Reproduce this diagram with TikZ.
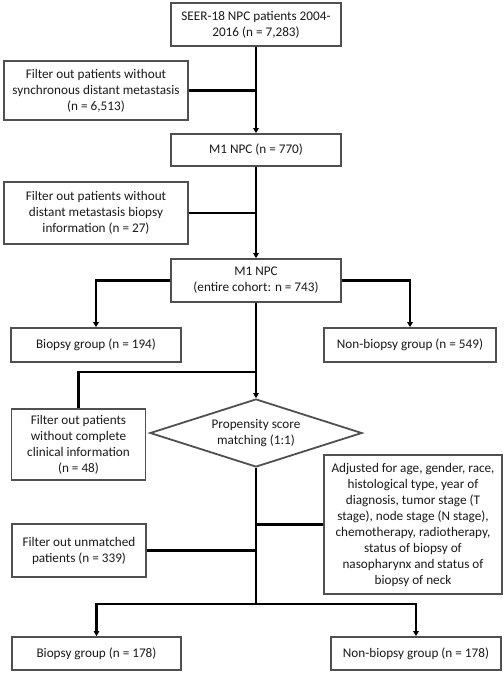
\documentclass[tikz,border=0pt]{standalone}
\usepackage{fontspec}
\setmainfont{Carlito}
\usetikzlibrary{shapes.geometric,arrows.meta}
\definecolor{boxgray}{HTML}{505050}
\definecolor{txt}{HTML}{1A1A1A}
\tikzset{
  box/.style={draw=boxgray, line width=1.8pt, fill=white, align=center, inner sep=0pt,
    text=txt, font=\fontsize{13.2}{16}\selectfont},
  dia/.style={box, diamond, shape aspect=3.1},
  conn/.style={draw=black, line width=2.2pt},
  arr/.style={conn, -{Triangle[length=5pt,width=5.5pt]}},
}
\begin{document}
\begin{tikzpicture}[x=1pt,y=-1pt]
\useasboundingbox (0,0) rectangle (504,673);
\node[box, minimum width=170pt, minimum height=43pt] (b1) at (256,24.5) {SEER-18 NPC patients 2004-\\2016 (n = 7,283)};
\node[box, minimum width=184pt, minimum height=59pt] (b2) at (96,90.5) {Filter out patients without\\synchronous distant metastasis\\(n = 6,513)};
\node[box, minimum width=170pt, minimum height=32pt] (b3) at (256,150) {M1 NPC (n = 770)};
\node[box, minimum width=184pt, minimum height=62pt] (b4) at (96,213) {Filter out patients without\\distant metastasis biopsy\\information (n = 27)};
\node[box, minimum width=170pt, minimum height=43pt] (b5) at (256,280.5) {M1 NPC\\(entire cohort: n = 743)};
\node[box, minimum width=170pt, minimum height=34pt] (b6) at (96,345) {Biopsy group (n = 194)};
\node[box, minimum width=172pt, minimum height=34pt] (b7) at (410,345) {Non-biopsy group (n = 549)};
\node[dia, minimum width=212pt, minimum height=68pt] (d) at (256,433) {Propensity score\\matching (1:1)};
\node[box, minimum width=134pt, minimum height=71pt] (b8) at (78.5,444.5) {Filter out patients\\without complete\\clinical information\\(n = 48)};
\node[box, minimum width=134pt, minimum height=53pt] (b9) at (79,550.5) {Filter out unmatched\\patients (n = 339)};
\node[box, minimum width=178pt, minimum height=139pt] (b10) at (413,524.5) {Adjusted for age, gender, race,\\histological type, year of\\diagnosis, tumor stage (T\\stage), node stage (N stage),\\chemotherapy, radiotherapy,\\status of biopsy of\\nasopharynx and status of\\biopsy of neck};
\node[box, minimum width=169pt, minimum height=33pt] (b11) at (96.5,653.5) {Biopsy group (n = 178)};
\node[box, minimum width=170pt, minimum height=33pt] (b12) at (416,653.5) {Non-biopsy group (n = 178)};
\coordinate (j1) at (256,372);
\coordinate (j2) at (256,604);
\draw[arr] (b1.south) -- (b3.north);
\draw[conn] (b2.east) -- (b2.east -| b1.south);
\draw[arr] (b3.south) -- (b5.north);
\draw[conn] (b4.east) -- (b4.east -| b3.south);
\draw[arr] (b5.west) -| (b6.north);
\draw[arr] (b5.east) -| (b7.north);
\draw[arr] (b5.south) -- (d.north);
\draw[conn] (j1) -| (b8.north);
\draw[conn] (d.south) -- (j2);
\draw[arr] (j2) -| (b11.north);
\draw[arr] (j2) -| (b12.north);
\draw[conn] (b9.east) -- (b9.east -| d.south);
\draw[conn] (b10.west) -- (b10.west -| d.south);
\end{tikzpicture}
\end{document}
